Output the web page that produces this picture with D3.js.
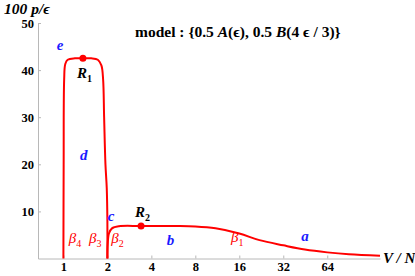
<!DOCTYPE html>
<html>
<head>
<meta charset="utf-8">
<script src="https://cdn.jsdelivr.net/npm/d3@7"></script>
<style>
  body { margin: 0; background: #fff; }
  svg text { font-family: "Liberation Serif", "DejaVu Serif", serif; }
  .axis path, .axis line { stroke: #b8b8b8; }
  .axis text { font-size: 12.5px; font-weight: bold; fill: #000; }
</style>
</head>
<body>
<svg id="chart" width="415" height="276"></svg>
<script>
// x ticks (V/N, log2 axis) and y ticks (100 p/eps)
const xTicks = [1, 2, 4, 8, 16, 32, 64];
const yTicks = [10, 20, 30, 40, 50];

// curve: the R1 branch between V/N = 1 and 2
const peakX = [1, 1.004, 1.012, 1.03, 1.07, 1.2, 1.36, 1.55, 1.72, 1.82, 1.87, 1.9, 1.94, 1.98, 2, 2];
const peakY = [0, 20, 38, 41.3, 42.2, 42.5, 42.5, 42.5, 42.2, 41, 38, 30, 20, 15, 8, 0];

// the R2 branch from V/N = 2 onwards
const tailX = [2, 2.01, 2.05, 2.15, 2.4, 3.4, 6, 8, 11, 16, 22, 32, 45, 64, 90, 147];
const tailY = [0, 3, 5.3, 6.4, 6.85, 6.9, 6.9, 6.8, 6.4, 5.3, 3.9, 2.8, 1.9, 1.3, 0.9, 0.6];

// marked points
const dots = [{name: 'R', sub: '1', x: 1.36, y: 42.5}, {name: 'R', sub: '2', x: 3.4, y: 6.9}];

// region letters (blue) and beta labels (red)
const letters = [
    {t: 'e', x: 0.95, y: 44.3},
    {t: 'd', x: 1.38, y: 21},
    {t: 'c', x: 2.12, y: 8},
    {t: 'b', x: 5.4, y: 2.8},
    {t: 'a', x: 45, y: 3.8}
];
const betas = [
    {t: '4', x: 1.2, y: 3.2},
    {t: '3', x: 1.65, y: 3.2},
    {t: '2', x: 2.35, y: 3.2},
    {t: '1', x: 15.5, y: 3.4}
];

const svg = d3.select('#chart');
const x = d3.scaleLog().base(2).domain([0.67, 147]).range([38, 380]);
const y = d3.scaleLinear().domain([0, 50]).range([258.5, 23]);

// axes
const xAxis = svg.append('g')
    .attr('class', 'axis')
    .attr('transform', `translate(0,${y(0)})`)
    .call(d3.axisBottom(x).tickValues(xTicks).tickFormat(d3.format('d'))
        .tickSizeInner(-3).tickSizeOuter(0).tickPadding(4));

const yAxis = svg.append('g')
    .attr('class', 'axis')
    .attr('transform', `translate(${x(0.67)},0)`)
    .call(d3.axisLeft(y).tickValues(yTicks).tickSizeInner(-3).tickSizeOuter(0).tickPadding(4));

[xAxis, yAxis].forEach(g => g.attr('font-family', 'Liberation Serif')
    .selectAll('text').style('font-family', 'Liberation Serif'));

// curve
const line = d3.line()
    .x(d => x(d[0]))
    .y(d => y(d[1]))
    .curve(d3.curveCatmullRom.alpha(0.5));

[[peakX, peakY], [tailX, tailY]].forEach(([xs, ys]) => {
    svg.append('path')
        .datum(xs.map((v, i) => [v, ys[i]]))
        .attr('fill', 'none')
        .attr('stroke', '#f00')
        .attr('stroke-width', 2)
        .attr('d', line);
});

svg.selectAll('.dot')
    .data(dots)
    .enter()
    .append('circle')
    .attr('cx', d => x(d.x))
    .attr('cy', d => y(d.y))
    .attr('r', 3.5)
    .attr('fill', '#f00');

// R labels
const rl = svg.selectAll('.rlab')
    .data(dots)
    .enter()
    .append('text')
    .attr('x', d => x(d.x) - 6)
    .attr('y', d => y(d.y) + (d.sub === '1' ? 20 : -9))
    .attr('font-size', 15)
    .attr('font-weight', 'bold');
rl.append('tspan').attr('font-style', 'italic').text(d => d.name);
rl.append('tspan').attr('font-size', 10).attr('dy', 4).text(d => d.sub);

svg.selectAll('.letter')
    .data(letters)
    .enter()
    .append('text')
    .attr('x', d => x(d.x))
    .attr('y', d => y(d.y))
    .attr('text-anchor', 'middle')
    .attr('font-size', 15)
    .attr('font-weight', 'bold')
    .attr('font-style', 'italic')
    .attr('fill', '#1a1aff')
    .text(d => d.t);

const bl = svg.selectAll('.beta')
    .data(betas)
    .enter()
    .append('text')
    .attr('x', d => x(d.x))
    .attr('y', d => y(d.y))
    .attr('text-anchor', 'middle')
    .attr('font-size', 15)
    .attr('fill', '#f00');
bl.append('tspan').attr('font-style', 'italic').text('β');
bl.append('tspan').attr('font-size', 10).attr('dy', 4).text(d => d.t);

// title
const title = svg.append('text')
    .attr('x', 135)
    .attr('y', 37)
    .attr('font-size', 15.5)
    .attr('font-weight', 'bold');
[['model : {0.5 ', false], ['A', true], ['(ϵ), 0.5 ', false], ['B', true], ['(4 ϵ / 3)}', false]]
    .forEach(([t, it]) => title.append('tspan').attr('font-style', it ? 'italic' : 'normal').text(t));

// axis labels
svg.append('text')
    .attr('x', 4)
    .attr('y', 14)
    .attr('font-size', 15.5)
    .attr('font-weight', 'bold')
    .attr('font-style', 'italic')
    .text('100 p/ϵ');

svg.append('text')
    .attr('x', 383)
    .attr('y', 263)
    .attr('font-size', 15)
    .attr('font-weight', 'bold')
    .attr('font-style', 'italic')
    .text('V / N');
</script>
</body>
</html>
